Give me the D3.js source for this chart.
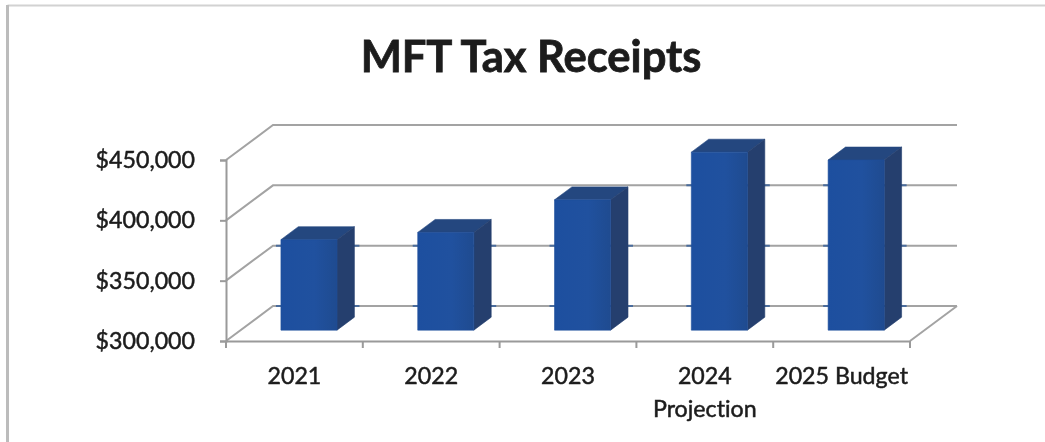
<!DOCTYPE html>
<html>
<head>
<meta charset="utf-8">
<script src="https://cdn.jsdelivr.net/npm/d3@7"></script>
<style>
  body { margin: 0; background: #fff; }
  text { font-family: Lato, "Open Sans", sans-serif; fill: #1c1c1c; stroke: #1c1c1c; stroke-width: 0.5px; font-variant-ligatures: none; }
  svg { filter: blur(0.45px); }
</style>
</head>
<body>
<div id="container"></div>
<script>
// data we work with
let categories = ["2021", "2022", "2023", "2024\nProjection", "2025 Budget"];
let receipts = [375000, 381000, 408000, 447500, 441000];
let yTicks = [300000, 350000, 400000, 450000];

let w = 1045;
let h = 442;
let viz = d3.select("#container")
  .append("svg")
    .attr("width", w)
    .attr("height", h)
    .style("display", "block")
;

// scan frame, top and left edge only
viz.append("path")
  .attr("d", "M1045,5.5H7.5")
  .attr("stroke", "#d2d2d2")
  .attr("stroke-width", 2)
;
viz.append("path")
  .attr("d", "M7.5,442V5")
  .attr("stroke", "#bcbcbc")
  .attr("stroke-width", 3)
;

viz.append("text")
  .attr("x", 531)
  .attr("y", 72)
  .attr("text-anchor", "middle")
  .style("font-size", "43.5px")
  .style("font-weight", 700)
  .style("stroke-width", "0.8px")
  .text("MFT Tax Receipts")
;

let xScale = d3.scaleBand()
  .domain(categories)
  .range([226, 910])
  .paddingInner(0.59)
  .paddingOuter(0.295)
;
let yScale = d3.scaleLinear()
  .domain([300000, 450000])
  .range([341, 160])
;

// depth of the fake 3d box, 0 is front edge and 1 is back wall
let depthX = 47;
let depthY = -35;
function px(x, depth){
  return x + depth * depthX;
}
function py(y, depth){
  return y + depth * depthY;
}

let lineMaker = d3.line()
  .x(function(d){ return px(d[0], d[2]); })
  .y(function(d){ return py(d[1], d[2]); })
;

let x0 = xScale.range()[0];
let x1 = xScale.range()[1];

// gridlines go along the left wall and then the back wall
viz.selectAll(".grid").data(yTicks).enter().append("path")
  .attr("class", "grid")
  .attr("d", function(d){
    return lineMaker([[x0, yScale(d), 0], [x0, yScale(d), 1], [x1, yScale(d), 1]]);
  })
  .attr("fill", "none")
  .attr("stroke", "#a3a3a3")
  .attr("stroke-width", 2)
;

// floor, right side
viz.append("path")
  .attr("d", lineMaker([[x1, yScale(300000), 0], [x1, yScale(300000), 1]]))
  .attr("fill", "none")
  .attr("stroke", "#a3a3a3")
  .attr("stroke-width", 2)
;

let frontDepth = 0.31;
let backDepth = 0.68;

let defs = viz.append("defs");
let grad = defs.append("linearGradient").attr("id", "front");
grad.append("stop").attr("offset", "0%").attr("stop-color", "#1d4f9f");
grad.append("stop").attr("offset", "60%").attr("stop-color", "#20519f");
grad.append("stop").attr("offset", "100%").attr("stop-color", "#1f4b90");

let bars = viz.selectAll(".bar").data(receipts).enter().append("g").attr("class", "bar");

function barLeft(d, i){ return xScale(categories[i]); }
function barRight(d, i){ return xScale(categories[i]) + xScale.bandwidth(); }

// the blue shadow where the gridlines meet a bar, only below the bar top
yTicks.forEach(function(t){
  bars.filter(function(d){ return d > t + 15000; }).append("path")
    .attr("d", function(d){
      let i = receipts.indexOf(d);
      let y = py(yScale(t), 1);
      return "M" + (px(barLeft(d, i), frontDepth) - 5) + "," + y + "H" + (px(barRight(d, i), backDepth) + 5);
    })
    .attr("stroke", "#4a6c9c")
    .attr("stroke-width", 2)
    .attr("fill", "none")
  ;
});

// top
bars.append("path")
  .attr("d", function(d, i){
    return lineMaker([
      [barLeft(d, i), yScale(d), frontDepth],
      [barRight(d, i), yScale(d), frontDepth],
      [barRight(d, i), yScale(d), backDepth],
      [barLeft(d, i), yScale(d), backDepth]
    ]) + "Z";
  })
  .attr("fill", "#24477f")
  .attr("stroke", "#24477f")
  .attr("stroke-width", 0.6)
;
// side
bars.append("path")
  .attr("d", function(d, i){
    return lineMaker([
      [barRight(d, i), yScale(d), frontDepth],
      [barRight(d, i), yScale(d), backDepth],
      [barRight(d, i), yScale(300000), backDepth],
      [barRight(d, i), yScale(300000), frontDepth]
    ]) + "Z";
  })
  .attr("fill", "#253f6e")
  .attr("stroke", "#253f6e")
  .attr("stroke-width", 0.6)
;
// front
bars.append("path")
  .attr("d", function(d, i){
    return lineMaker([
      [barLeft(d, i), yScale(d), frontDepth],
      [barRight(d, i), yScale(d), frontDepth],
      [barRight(d, i), yScale(300000), frontDepth],
      [barLeft(d, i), yScale(300000), frontDepth]
    ]) + "Z";
  })
  .attr("fill", "url(#front)")
  .attr("stroke", "#1f4f9c")
  .attr("stroke-width", 0.6)
;

// axes
let yAxis = d3.axisLeft(yScale)
  .tickValues(yTicks)
  .tickFormat(d3.format("$,"))
  .tickSize(6)
  .tickPadding(25)
;
let yG = viz.append("g")
  .attr("transform", "translate(" + x0 + ",0)")
  .call(yAxis)
;

let xG = viz.append("g")
  .attr("transform", "translate(0," + yScale(300000) + ")")
  .call(d3.axisBottom(xScale).tickSize(0).tickPadding(0).tickFormat(""))
;

// ticks sit on the band edges, so draw them from the band positions
let edges = categories.map(function(c){ return xScale(c) - xScale.step() * xScale.paddingInner() / 2; });
edges.push(x1);
xG.selectAll(".edge").data(edges).enter().append("line")
  .attr("class", "edge")
  .attr("x1", function(d){ return d; })
  .attr("x2", function(d){ return d; })
  .attr("y1", 0)
  .attr("y2", 7)
;

viz.selectAll(".domain, .tick line, .edge")
  .attr("stroke", "#9a9a9a")
  .attr("stroke-width", 2)
;
yG.selectAll("text").style("font-size", "23.2px");

let labels = viz.selectAll(".cat").data(categories).enter().append("text")
  .attr("class", "cat")
  .attr("text-anchor", "middle")
  .style("font-size", "23.2px")
;
labels.selectAll("tspan")
  .data(function(d){ return d.split("\n"); })
  .enter().append("tspan")
  .attr("x", function(){
    let c = d3.select(this.parentNode).datum();
    return xScale(c) + xScale.bandwidth() / 2;
  })
  .attr("y", function(d, i){ return 384 + i * 33; })
  .text(function(d){ return d; })
;
</script>
</body>
</html>
